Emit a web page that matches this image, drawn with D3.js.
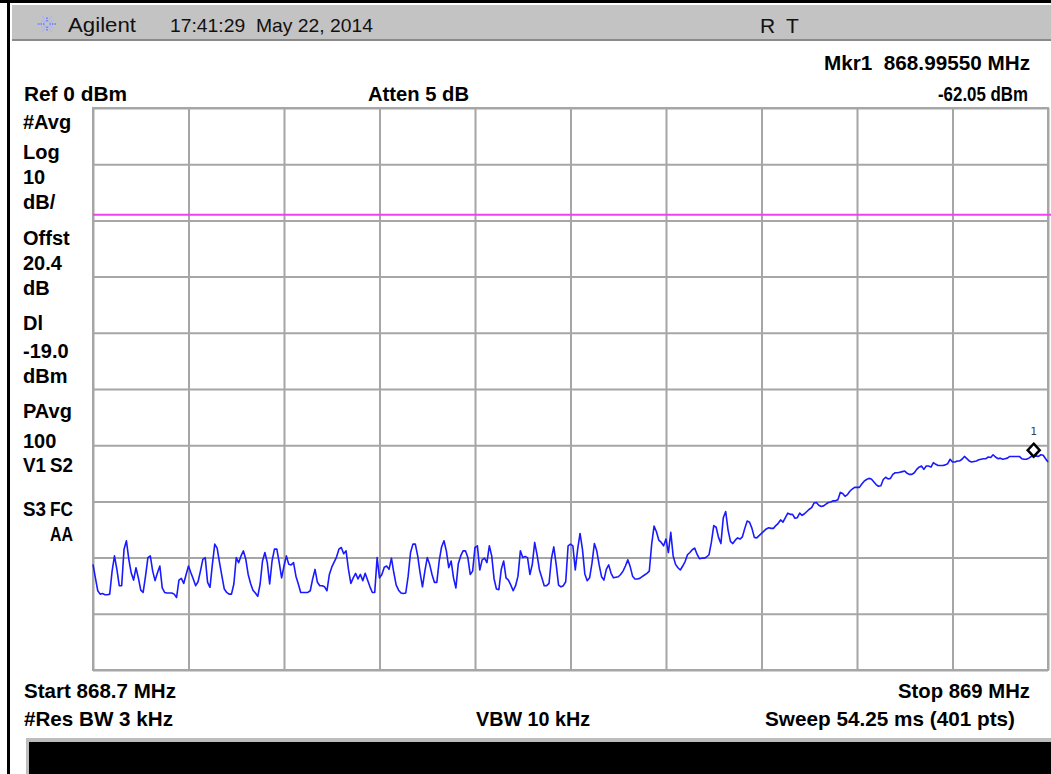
<!DOCTYPE html>
<html><head><meta charset="utf-8">
<script src="https://cdn.jsdelivr.net/npm/d3@7"></script>
<style>body{margin:0;background:#fff;overflow:hidden} svg{display:block}</style>
</head><body><svg id="c" width="1051" height="774"></svg>
<script>
// ---------- data ----------
const startMHz = 868.7, stopMHz = 869.0;
const refLevel = 0, dbPerDiv = 10, nDiv = 10;
const displayLine = -19.0;
const markerFreq = 868.99550, markerLevel = -62.05, markerLabel = "1";
// trace levels (dBm), 401 sweep points
const traceLevels = [
 -81.2,-83.6,-85.9,-86.5,-86.4,-86.6,-86.6,-86.5,-82.4,-79.7,
 -82.1,-85.0,-85.0,-78.5,-77.0,-80.3,-82.7,-84.0,-81.8,-83.6,
 -85.8,-86.2,-83.3,-80.0,-79.7,-82.4,-84.1,-82.7,-81.5,-85.4,
 -86.2,-86.3,-86.3,-86.3,-86.5,-87.1,-84.0,-83.7,-84.6,-83.0,
 -81.5,-82.7,-83.8,-85.0,-84.3,-82.4,-80.3,-80.0,-84.4,-85.3,
 -81.2,-77.6,-78.3,-80.9,-83.3,-85.6,-86.2,-86.5,-86.5,-84.7,
 -80.0,-80.9,-79.7,-78.8,-80.3,-83.0,-84.6,-85.8,-86.3,-86.9,
 -84.7,-80.6,-79.1,-80.9,-84.7,-80.6,-78.5,-78.5,-80.9,-83.6,
 -81.5,-79.7,-81.2,-81.3,-80.9,-83.3,-84.7,-86.2,-86.2,-86.2,
 -86.2,-85.9,-83.8,-82.1,-84.4,-85.0,-85.0,-85.2,-85.9,-83.0,
 -81.7,-80.8,-79.9,-78.5,-78.2,-79.3,-78.8,-82.1,-84.6,-83.6,
 -82.8,-83.8,-83.0,-84.1,-82.8,-84.0,-85.2,-86.2,-86.2,-80.0,
 -83.6,-83.0,-81.7,-81.5,-82.1,-80.1,-82.7,-84.9,-85.8,-86.3,
 -86.4,-86.3,-83.3,-79.1,-77.6,-77.6,-79.7,-82.7,-85.2,-82.4,
 -80.0,-81.2,-83.0,-84.4,-84.4,-80.6,-78.1,-77.0,-78.8,-81.8,
 -80.6,-83.6,-85.4,-81.1,-79.7,-78.8,-78.8,-80.0,-83.0,-82.4,
 -78.2,-77.9,-82.2,-80.4,-80.1,-80.9,-77.9,-79.7,-83.8,-85.6,
 -85.7,-82.1,-80.6,-83.6,-84.0,-84.9,-85.9,-85.0,-83.3,-78.8,
 -80.0,-79.8,-80.0,-83.0,-81.2,-77.3,-79.5,-82.2,-83.6,-85.0,
 -85.0,-84.6,-80.2,-78.1,-81.2,-84.9,-85.2,-85.0,-84.3,-77.9,
 -77.6,-77.9,-82.2,-78.5,-75.7,-78.5,-82.9,-84.1,-83.6,-81.0,
 -77.5,-78.8,-81.3,-83.4,-84.0,-82.1,-81.3,-82.8,-83.6,-83.5,
 -83.4,-83.0,-82.4,-81.5,-80.4,-81.6,-83.3,-83.8,-83.8,-83.7,
 -83.4,-83.1,-82.8,-82.4,-77.6,-74.4,-75.4,-76.9,-77.3,-77.9,
 -76.7,-79.1,-75.5,-79.7,-81.2,-81.8,-82.2,-81.5,-80.7,-79.5,
 -79.1,-78.6,-78.3,-79.4,-80.2,-80.1,-80.1,-79.9,-79.5,-77.3,
 -74.3,-74.6,-76.4,-77.5,-72.9,-71.8,-75.1,-77.1,-77.5,-76.9,
 -76.5,-76.7,-76.3,-74.8,-73.5,-73.7,-74.8,-76.4,-76.5,-76.1,
 -75.7,-75.3,-74.9,-74.7,-74.8,-74.8,-74.3,-73.9,-73.3,-73.7,
 -72.9,-72.1,-72.3,-72.3,-73.0,-72.9,-72.1,-72.5,-72.2,-71.8,
 -71.4,-71.1,-70.3,-70.2,-70.7,-70.9,-70.8,-70.5,-70.2,-70.1,
 -69.9,-69.9,-69.7,-68.4,-68.6,-69.1,-68.8,-68.2,-67.8,-67.5,
 -67.5,-67.5,-66.9,-66.4,-66.1,-65.9,-66.0,-66.5,-67.0,-67.3,
 -67.2,-66.1,-65.7,-66.0,-65.9,-65.2,-64.9,-64.9,-64.8,-64.7,
 -64.6,-65.0,-65.2,-65.2,-64.9,-64.3,-63.9,-63.7,-64.3,-63.7,
 -63.7,-63.9,-63.1,-63.4,-63.6,-63.6,-63.6,-63.5,-63.3,-62.5,
 -63.0,-63.0,-62.8,-62.8,-62.5,-62.0,-62.4,-62.8,-63.0,-62.9,
 -62.8,-62.6,-62.5,-62.4,-62.4,-62.1,-62.2,-61.7,-62.1,-62.4,
 -62.3,-62.5,-62.4,-62.3,-62.0,-62.0,-62.0,-62.0,-62.0,-62.4,
 -62.5,-62.5,-62.3,-62.0,-62.0,-61.9,-62.0,-61.7,-61.8,-62.4,
 -63.0
];
const headerTexts = ["Agilent", "17:41:29  May 22, 2014", "R", "T"];
// left annotation rows: [left word, right word]
const leftLabels = [["#Avg",""],["Log",""],["10",""],["dB/",""],["Offst",""],["20.4",""],["dB",""],["Dl",""],["-19.0",""],["dBm",""],["PAvg",""],["100",""],["V1","S2"],["S3","FC"],["","AA"]];
const leftLabelY = [122,152,177,202,238,263,288,323,351,376,411,441,465,509,534];
const topInfo = {mkr:"Mkr1  868.99550 MHz", ref:"Ref 0 dBm", atten:"Atten 5 dB", mval:"-62.05 dBm"};
const bottomInfo = {start:"Start 868.7 MHz", stop:"Stop 869 MHz", rbw:"#Res BW 3 kHz", vbw:"VBW 10 kHz", sweep:"Sweep 54.25 ms (401 pts)"};

// ---------- layout ----------
const svg = d3.select("#c");
const L = 93, R = 1048, T = 108, B = 670;
const x = d3.scaleLinear().domain([startMHz, stopMHz]).range([L, R]);
const y = d3.scaleLinear().domain([refLevel - dbPerDiv*nDiv, refLevel]).range([B, T]);
const sans = "'Liberation Sans',Arial,sans-serif";

svg.append("rect").attr("width",1051).attr("height",774).attr("fill","#fff");
// outer frame
svg.append("rect").attr("x",0).attr("y",0).attr("width",1051).attr("height",3).attr("fill","#000");
svg.append("rect").attr("x",7).attr("y",0).attr("width",3).attr("height",774).attr("fill","#000");
// header bar
svg.append("rect").attr("x",12).attr("y",5).attr("width",1039).attr("height",35).attr("fill","#c3c3c3");
svg.append("rect").attr("x",12).attr("y",39).attr("width",1039).attr("height",2).attr("fill","#8a8a8a");

// Agilent logo (starburst)
const lg = svg.append("g").attr("transform","translate(47,24)");
d3.range(12).forEach(i=>{
  const a = i*Math.PI/6;
  lg.append("line").attr("x1",Math.cos(a)*2.5).attr("y1",Math.sin(a)*2.5)
    .attr("x2",Math.cos(a)*(i%2?7:10)).attr("y2",Math.sin(a)*(i%2?7:10))
    .attr("stroke", i%3===0 ? "#6a7bff" : "#a9b4ff").attr("stroke-width",1.6).attr("stroke-dasharray","1.5,1");
});
const txt = (t,xx,yy,o)=>{
  const e = svg.append("text").attr("x",xx).attr("y",yy).text(t)
    .attr("xml:space","preserve").attr("text-anchor",o.anchor||"start")
    .attr("font-family",o.fam||sans).attr("font-weight",o.weight||"bold")
    .attr("font-size",o.size||20.5).attr("fill",o.fill||"#000");
  if (o.len) e.attr("textLength",o.len).attr("lengthAdjust","spacingAndGlyphs");
  return e;
};
txt(headerTexts[0], 68, 32, {weight:"normal", size:20, len:68, fill:"#111"});
txt(headerTexts[1], 170, 32, {weight:"normal", size:19, len:203, fill:"#111"});
txt(headerTexts[2], 760, 33, {weight:"normal", size:21, fill:"#111"});
txt(headerTexts[3], 786, 33, {weight:"normal", size:21, fill:"#111"});

txt(topInfo.mkr, 1030, 70, {anchor:"end", len:206});
txt(topInfo.ref, 24, 101, {len:103});
txt(topInfo.atten, 368, 101, {len:101});
txt(topInfo.mval, 1028, 101, {anchor:"end", len:90});

leftLabels.forEach((pair,i)=>{
  const yy = leftLabelY[i]+7;
  if (pair[0]) txt(pair[0], 23, yy, pair[1] ? {size:20, len:23} : {size:20});
  if (pair[1]) txt(pair[1], 73, yy, {size:20, anchor:"end", len:23});
});

txt(bottomInfo.start, 24, 698, {len:152});
txt(bottomInfo.stop, 1030, 698, {anchor:"end", len:132});
txt(bottomInfo.rbw, 24, 726, {len:149});
txt(bottomInfo.vbw, 476, 726, {len:114});
txt(bottomInfo.sweep, 1015, 726, {anchor:"end", len:250});

// bottom black bar
svg.append("rect").attr("x",26).attr("y",738).attr("width",1025).attr("height",36).attr("fill","#bdbdbd");
svg.append("rect").attr("x",29).attr("y",742).attr("width",1022).attr("height",32).attr("fill","#000");

// ---------- grid ----------
const gridColor = "#a6a6a6";
const xTicks = d3.range(nDiv+1).map(i=>startMHz + i*(stopMHz-startMHz)/nDiv);
const yTicks = d3.range(nDiv+1).map(i=>refLevel - i*dbPerDiv);
const gx = svg.append("g").attr("transform",`translate(0,${T})`)
  .call(d3.axisBottom(x).tickValues(xTicks).tickSize(B-T).tickFormat(""));
const gy = svg.append("g").attr("transform",`translate(${L},0)`)
  .call(d3.axisRight(y).tickValues(yTicks).tickSize(R-L).tickFormat(""));
[gx,gy].forEach(g=>{
  g.select(".domain").remove();
  g.selectAll("line").attr("stroke",gridColor).attr("stroke-width",2);
});
svg.append("rect").attr("x",L).attr("y",T).attr("width",R-L).attr("height",B-T)
  .attr("fill","none").attr("stroke",gridColor).attr("stroke-width",2);

// display line
svg.append("line").attr("x1",L).attr("x2",1051).attr("y1",y(displayLine)).attr("y2",y(displayLine))
  .attr("stroke","#f040f0").attr("stroke-width",2);

// ---------- trace ----------
const n = traceLevels.length;
const freqOf = i => startMHz + i*(stopMHz-startMHz)/(n-1);
const line = d3.line().x((d,i)=>x(freqOf(i))).y(d=>y(d));
svg.append("path").datum(traceLevels).attr("d",line)
  .attr("fill","none").attr("stroke","#1a1aff").attr("stroke-width",1.6).attr("stroke-linejoin","round");

// ---------- marker ----------
const mx = x(markerFreq), my = y(markerLevel);
svg.append("path").attr("d",`M${mx},${my-13}L${mx+6},${my-6.5}L${mx},${my}L${mx-6},${my-6.5}Z`)
  .attr("fill","#fff").attr("stroke","#000").attr("stroke-width",2.5);
svg.append("text").attr("x",mx).attr("y",my-22).attr("text-anchor","middle").text(markerLabel)
  .attr("font-family","'DejaVu Sans Mono',monospace").attr("font-size",11).attr("fill","#444");
</script></body></html>
